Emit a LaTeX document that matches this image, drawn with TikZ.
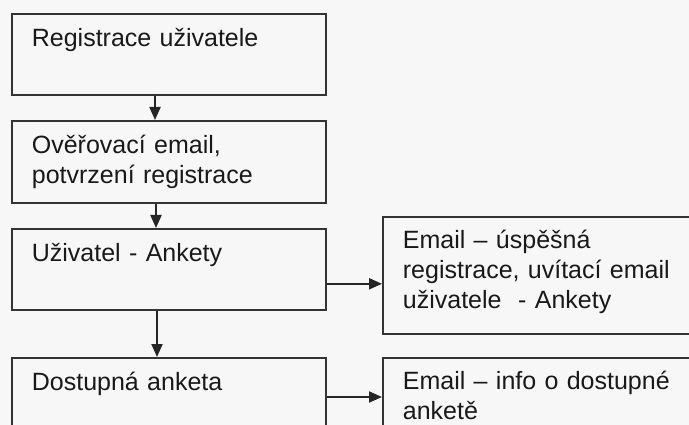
\documentclass[tikz,border=0pt]{standalone}
\usepackage{fontspec}
\setmainfont{Liberation Sans}
\usetikzlibrary{arrows.meta}
\tikzset{
  krok/.style={draw=black!80,line width=1.8pt,anchor=north west,inner xsep=20pt,inner ysep=0pt,
    text width=#1-40pt,align=left,text height=33pt,font=\fontsize{25}{30}\selectfont,text=black!90},
  sipka/.style={draw=black!85,line width=2pt,-{Triangle[length=13pt,width=11pt]}}
}
\begin{document}
\begin{tikzpicture}[x=1pt,y=-1pt]
        \useasboundingbox(0,0)rectangle(689,425);
        \fill[black!3](0,0)rectangle(689,425);
        \clip(0,0)rectangle(689,425);
        \node[krok=314pt,text depth=48pt](1)at(11,13){Registrace uživatele};
        \node[krok=314pt,text depth=49pt](2)at(11,120){Ověřovací email,\\potvrzení registrace};
        \node[krok=314pt,text depth=48pt](3)at(11,228){Uživatel - Ankety};
        \node[krok=314pt,text depth=67pt](4)at(11,357){Dostupná anketa};
        \node[krok=330pt,text height=32pt,text depth=85pt](5)at(382,216){Email – úspěšná\\registrace, uvítací email\\uživatele~ - Ankety};
        \node[krok=330pt,text height=32pt,text depth=68pt](6)at(382,357){Email – info o dostupné\\anketě};
        \draw[sipka]([xshift=144pt]1.south west)--([xshift=144pt]2.north west);
        \draw[sipka]([xshift=145pt]2.south west)--([xshift=145pt]3.north west);
        \draw[sipka]([xshift=146pt]3.south west)--([xshift=146pt]4.north west);
        \draw[sipka]([yshift=27pt]3.south east)--([yshift=27pt]3.south east-|5.west);
        \draw[sipka]([yshift=-40pt]4.north east)--([yshift=-40pt]4.north east-|6.west);
    \end{tikzpicture}
\end{document}
